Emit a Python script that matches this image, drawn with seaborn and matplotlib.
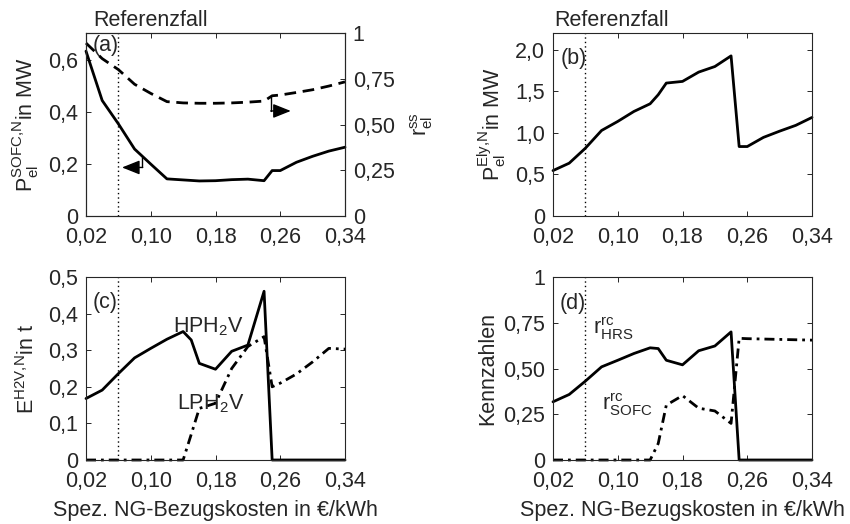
import matplotlib
matplotlib.use("Agg")
import matplotlib.pyplot as plt
import pandas as pd
import seaborn as sns

# Spez. NG-Bezugskosten in EUR/kWh
kosten = [0.02, 0.04, 0.06, 0.08, 0.10, 0.12, 0.14, 0.15, 0.16, 0.18,
          0.20, 0.22, 0.24, 0.25, 0.26, 0.28, 0.30, 0.32, 0.34]
# (a) SOFC-Nennleistung in MW und Selbstversorgungsgrad
p_sofc = [0.635, 0.445, 0.355, 0.258, 0.200, 0.143, 0.139, 0.137, 0.135, 0.136,
          0.140, 0.142, 0.136, 0.175, 0.175, 0.207, 0.230, 0.250, 0.265]
r_ss = [0.945, 0.860, 0.800, 0.720, 0.670, 0.625, 0.618, 0.617, 0.616, 0.616,
        0.618, 0.622, 0.628, 0.657, 0.661, 0.675, 0.690, 0.710, 0.733]
# (b) Elektrolyseur-Nennleistung in MW
p_ely = [0.546, 0.635, 0.815, 1.028, 1.137, 1.257, 1.349, 1.458, 1.598, 1.618,
         1.730, 1.797, 1.925, 0.835, 0.835, 0.945, 1.020, 1.090, 1.185]
# (c) H2-Speicherkapazitaet in t
e_hph2v = [0.168, 0.191, 0.236, 0.279, 0.305, 0.330, 0.351, 0.328, 0.264, 0.248,
           0.297, 0.314, 0.461, 0.0, 0.0, 0.0, 0.0, 0.0, 0.0]
e_lph2v = [0.0, 0.0, 0.0, 0.0, 0.0, 0.0, 0.0, 0.070, 0.141, 0.155,
           0.250, 0.310, 0.337, 0.200, 0.210, 0.235, 0.268, 0.305, 0.303]
# (d) Kennzahlen
r_hrs = [0.318, 0.358, 0.431, 0.509, 0.545, 0.582, 0.613, 0.609, 0.545, 0.520,
         0.597, 0.623, 0.700, 0.0, 0.0, 0.0, 0.0, 0.0, 0.0]
r_sofc = [0.0, 0.0, 0.0, 0.0, 0.0, 0.0, 0.0, 0.090, 0.300, 0.352,
          0.283, 0.268, 0.200, 0.665, 0.663, 0.661, 0.659, 0.657, 0.655]

referenz_kosten = 0.06
x_ticks = [0.02, 0.10, 0.18, 0.26, 0.34]
x_ticklabels = ["0,02", "0,10", "0,18", "0,26", "0,34"]

df = pd.DataFrame({
    "kosten": kosten, "p_sofc": p_sofc, "r_ss": r_ss, "p_ely": p_ely,
    "e_hph2v": e_hph2v, "e_lph2v": e_lph2v, "r_hrs": r_hrs, "r_sofc": r_sofc,
})

FS = 15.5
sns.set_theme(style="ticks")
ink = "#262626"
plt.rcParams.update({
    "font.family": ["Liberation Sans", "DejaVu Sans"],
    "font.size": FS,
    "mathtext.default": "regular",
    "axes.edgecolor": ink,
    "axes.labelcolor": ink,
    "text.color": ink,
    "xtick.color": ink,
    "ytick.color": ink,
    "axes.linewidth": 0.8,
    "xtick.direction": "in",
    "ytick.direction": "in",
    "xtick.major.size": 3.5,
    "ytick.major.size": 3.5,
    "xtick.major.width": 0.7,
    "ytick.major.width": 0.7,
    "xtick.labelsize": FS,
    "ytick.labelsize": FS,
    "axes.labelsize": FS,
    "xtick.major.pad": 8,
    "ytick.major.pad": 5.5,
})

fig = plt.figure(figsize=(8.5, 5.24), dpi=100)
W, H = 850, 524


def make_axes(left, top, right, bottom):
    return fig.add_axes([left / W, 1 - bottom / H, (right - left) / W, (bottom - top) / H])


ax_a = make_axes(86, 33, 345, 216)
ax_b = make_axes(553, 33, 812, 216)
ax_c = make_axes(86, 277, 345, 460)
ax_d = make_axes(553, 277, 812, 460)

LW = 2.0
DASH = (0, (4.2, 2.4))
DASHDOT = (0, (3.6, 1.8, 1.0, 1.8))


def line(ax, y, style="-"):
    sns.lineplot(data=df, x="kosten", y=y, ax=ax, color="black", lw=LW,
                 linestyle=style, errorbar=None, sort=False, clip_on=False)
    ax.set_xlabel("")
    ax.set_ylabel("")


def style_axes(ax, ylim, yticks, yticklabels, mirror=True):
    ax.set_xlim(0.02, 0.34)
    ax.set_xticks(x_ticks)
    ax.set_xticklabels(x_ticklabels)
    ax.set_ylim(*ylim)
    ax.set_yticks(yticks)
    ax.set_yticklabels(yticklabels)
    ax.tick_params(top=True, right=mirror, left=True, bottom=True)
    for s in ax.spines.values():
        s.set_visible(True)
    ax.axvline(referenz_kosten, color="black", lw=1.0, linestyle=(0, (1, 2.2)))


# (a) SOFC-Leistung und Selbstversorgungsgrad
style_axes(ax_a, (0, 0.705), [0, 0.2, 0.4, 0.6], ["0", "0,2", "0,4", "0,6"], mirror=False)
line(ax_a, "p_sofc")
ax_a2 = ax_a.twinx()
line(ax_a2, "r_ss", DASH)
ax_a2.set_ylim(0, 1)
ax_a2.set_yticks([0, 0.25, 0.5, 0.75, 1])
ax_a2.set_yticklabels(["0", "0,25", "0,50", "0,75", "1"])
ax_a2.tick_params(right=True, left=False, direction="in")
ax_a.set_ylabel(r"P$_{el}^{SOFC{,}N}$in MW")
ax_a.yaxis.set_label_coords(-0.175, 0.5)
ax_a2.set_ylabel(r"r$_{el}^{ss}$", rotation=90)
ax_a2.yaxis.set_label_coords(1.243, 0.5)

# Zuordnungspfeile der Kurven zu den Achsen
ax_a.plot([0.0896, 0.0896], [0.229, 0.187], color="black", lw=1.0)
ax_a.annotate("", xy=(0.0645, 0.187), xytext=(0.0900, 0.187),
              arrowprops=dict(arrowstyle="-|>,head_length=0.7,head_width=0.28",
                              color="black", lw=1.0, shrinkA=0, shrinkB=0))
ax_a2.plot([0.2486, 0.2486], [0.657, 0.574], color="black", lw=1.0)
ax_a2.annotate("", xy=(0.273, 0.574), xytext=(0.2482, 0.574),
               arrowprops=dict(arrowstyle="-|>,head_length=0.7,head_width=0.28",
                               color="black", lw=1.0, shrinkA=0, shrinkB=0))

# (b) Elektrolyseur-Leistung
style_axes(ax_b, (0, 2.2), [0, 0.5, 1.0, 1.5, 2.0], ["0", "0,5", "1,0", "1,5", "2,0"])
line(ax_b, "p_ely")
ax_b.set_ylabel(r"P$_{el}^{Ely{,}N}$in MW")
ax_b.yaxis.set_label_coords(-0.175, 0.5)

# (c) Speicherkapazitaeten
style_axes(ax_c, (0, 0.5), [0, 0.1, 0.2, 0.3, 0.4, 0.5],
           ["0", "0,1", "0,2", "0,3", "0,4", "0,5"])
line(ax_c, "e_hph2v")
line(ax_c, "e_lph2v", DASHDOT)
ax_c.set_ylabel(r"E$^{H2V{,}N}$in t")
ax_c.yaxis.set_label_coords(-0.18, 0.5)
ax_c.text(0.127, 0.35, r"HPH$_2$V", fontsize=FS, va="baseline")
ax_c.text(0.132, 0.137, r"LPH$_2$V", fontsize=FS, va="baseline")

# (d) Kennzahlen
style_axes(ax_d, (0, 1), [0, 0.25, 0.5, 0.75, 1], ["0", "0,25", "0,50", "0,75", "1"])
line(ax_d, "r_hrs")
line(ax_d, "r_sofc", DASHDOT)
ax_d.set_ylabel("Kennzahlen")
ax_d.yaxis.set_label_coords(-0.21, 0.5)
ax_d.text(0.069, 0.69, r"r$_{HRS}^{rc}$", fontsize=FS, va="baseline")
ax_d.text(0.0805, 0.273, r"r$_{SOFC}^{rc}$", fontsize=FS, va="baseline")

for ax in (ax_c, ax_d):
    ax.set_xlabel("Spez. NG-Bezugskosten in €/kWh")
    ax.xaxis.set_label_coords(0.5, -0.22)

# Titel und Teilbildkennungen
ax_a.text(0.027, 1.038, "Referenzfall", transform=ax_a.transAxes, va="baseline")
ax_b.text(0.004, 1.038, "Referenzfall", transform=ax_b.transAxes, va="baseline")
for ax, lab, (tx, ty) in ((ax_a, "(a)", (0.027, 0.99)), (ax_b, "(b)", (0.031, 0.92)),
                          (ax_c, "(c)", (0.027, 0.92)), (ax_d, "(d)", (0.027, 0.91))):
    ax.text(tx, ty, lab, transform=ax.transAxes, va="top", ha="left")

fig.savefig("out.png", dpi=100)
